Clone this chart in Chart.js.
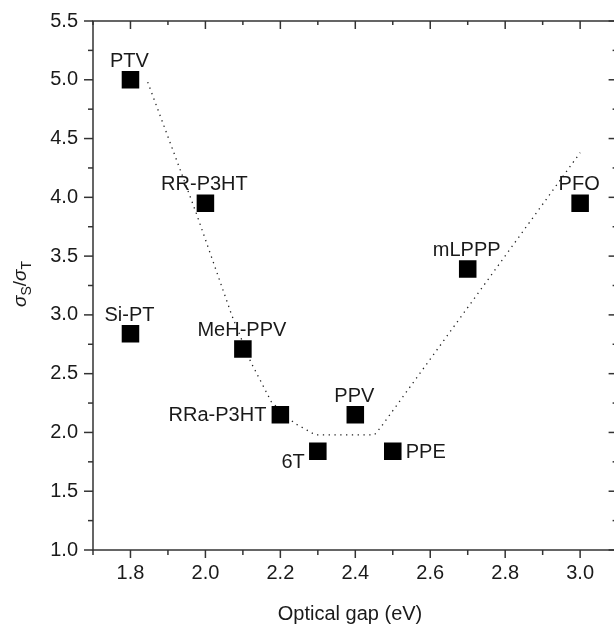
<!DOCTYPE html>
<html><head><meta charset="utf-8">
<script src="https://cdn.jsdelivr.net/npm/chart.js@4.4.0/dist/chart.umd.min.js"></script>
<style>
html,body{margin:0;padding:0;background:#fff;overflow:hidden;width:614px;height:626px}
#wrap{position:relative;width:630px;height:626px}
canvas{display:block}
</style>
</head><body><div id="wrap"><canvas id="c" width="630" height="626"></canvas></div>
<script>
// ---- data ----
const polymers   = ['PTV','RR-P3HT','Si-PT','MeH-PPV','RRa-P3HT','6T','PPV','PPE','mLPPP','PFO'];
const opticalGap = [1.8, 2.0, 1.8, 2.1, 2.2, 2.3, 2.4, 2.5, 2.7, 3.0];
const sigmaRatio = [5.0, 3.95, 2.84, 2.71, 2.15, 1.84, 2.15, 1.84, 3.39, 3.95];
const labelPlacement = ['above','above','above','above','left','belowLeft','above','right','above','above'];
// dotted guide-to-the-eye curve
const guideGap   = [1.846, 1.975, 2.070, 2.121, 2.176, 2.237, 2.271, 2.293, 2.451, 2.467, 3.0];
const guideRatio = [4.98, 3.87, 3.00, 2.60, 2.26, 2.08, 2.02, 1.98, 1.98, 2.04, 4.38];
// axis ticks
const xTickValues  = [1.8, 2.0, 2.2, 2.4, 2.6, 2.8, 3.0];
const xMinorValues = [1.7, 1.9, 2.1, 2.3, 2.5, 2.7, 2.9, 3.1];
const yTickValues  = [1.0, 1.5, 2.0, 2.5, 3.0, 3.5, 4.0, 4.5, 5.0, 5.5];
const yMinorValues = [1.25, 1.75, 2.25, 2.75, 3.25, 3.75, 4.25, 4.75, 5.25];
const xTitle = 'Optical gap (eV)';

const FONT = '"Liberation Sans", Arial, Helvetica, sans-serif';
const TXT = '#1a1a1a';
const AX = '#333333';

const framePlugin = {
  id: 'frame',
  beforeDatasetsDraw(chart) {
    const ctx = chart.ctx, a = chart.chartArea, xs = chart.scales.x, ys = chart.scales.y;
    ctx.save();
    ctx.strokeStyle = AX; ctx.lineWidth = 1.5; ctx.lineCap = 'butt';
    ctx.strokeRect(a.left, a.top, a.right - a.left, a.bottom - a.top);
    const ln = (x1, y1, x2, y2) => { ctx.beginPath(); ctx.moveTo(x1, y1); ctx.lineTo(x2, y2); ctx.stroke(); };
    xTickValues.forEach(v => { const p = xs.getPixelForValue(v); ln(p, a.bottom, p, a.bottom + 8); ln(p, a.top, p, a.top + 8); });
    xMinorValues.forEach(v => { const p = xs.getPixelForValue(v); ln(p, a.bottom, p, a.bottom + 5); ln(p, a.top, p, a.top + 4); });
    yTickValues.forEach(v => { const p = ys.getPixelForValue(v); ln(a.left - 9, p, a.left, p); ln(a.right - 9, p, a.right, p); });
    yMinorValues.forEach(v => { const p = ys.getPixelForValue(v); ln(a.left - 5, p, a.left, p); ln(a.right - 5, p, a.right, p); });
    ctx.restore();
  },
  afterDatasetsDraw(chart) {
    const ctx = chart.ctx, a = chart.chartArea;
    ctx.save();
    ctx.fillStyle = TXT;
    ctx.font = '20px ' + FONT;
    const meta = chart.getDatasetMeta(0);
    meta.data.forEach((pt, i) => {
      const x = pt.x, y = pt.y, t = polymers[i];
      switch (labelPlacement[i]) {
        case 'above': ctx.textAlign = 'center'; ctx.textBaseline = 'alphabetic'; ctx.fillText(t, x - 1, y - 13); break;
        case 'left': ctx.textAlign = 'right'; ctx.textBaseline = 'middle'; ctx.fillText(t, x - 14, y + 1); break;
        case 'right': ctx.textAlign = 'left'; ctx.textBaseline = 'middle'; ctx.fillText(t, x + 13, y + 1); break;
        case 'belowLeft': ctx.textAlign = 'right'; ctx.textBaseline = 'alphabetic'; ctx.fillText(t, x - 13, y + 17); break;
      }
    });
    // x axis title
    ctx.textAlign = 'center'; ctx.textBaseline = 'alphabetic';
    ctx.font = '20px ' + FONT;
    ctx.fillText(xTitle, 350, 620);
    // y axis title: sigma_S / sigma_T
    const big = 'italic 19px ' + FONT, small = '14px ' + FONT, reg = '19px ' + FONT;
    const parts = [
      {t: '\u03C3', f: big, dy: 0},
      {t: 'S', f: small, dy: 5},
      {t: '/', f: reg, dy: 0},
      {t: '\u03C3', f: big, dy: 0},
      {t: 'T', f: small, dy: 5}
    ];
    let total = 0;
    parts.forEach(p => { ctx.font = p.f; p.w = ctx.measureText(p.t).width; total += p.w; });
    ctx.translate(26, 284);
    ctx.rotate(-Math.PI / 2);
    ctx.textAlign = 'left';
    let cx = -total / 2;
    parts.forEach(p => { ctx.font = p.f; ctx.fillText(p.t, cx, p.dy); cx += p.w; });
    ctx.restore();
  }
};

new Chart(document.getElementById('c'), {
  type: 'scatter',
  data: {
    datasets: [
      {
        label: 'polymers',
        data: opticalGap.map((g, i) => ({x: g, y: sigmaRatio[i]})),
        pointStyle: 'rect',
        pointRadius: 12.4,
        pointHoverRadius: 12.4,
        backgroundColor: '#000',
        borderColor: '#000',
        borderWidth: 0
      },
      {
        type: 'line',
        label: 'guide',
        data: guideGap.map((g, i) => ({x: g, y: guideRatio[i]})),
        showLine: true,
        borderColor: '#222',
        borderWidth: 1.3,
        borderDash: [1.3, 4.5],
        pointRadius: 0,
        fill: false,
        tension: 0
      }
    ]
  },
  options: {
    responsive: false,
    animation: false,
    devicePixelRatio: 1,
    layout: {padding: {top: 21, right: 8, left: 0, bottom: 0}},
    plugins: {legend: {display: false}, tooltip: {enabled: false}},
    scales: {
      x: {
        type: 'linear', position: 'bottom', min: 1.7, max: 3.1,
        grid: {display: false, drawTicks: false},
        border: {display: false},
        afterBuildTicks: s => { s.ticks = xTickValues.map(v => ({value: v})); },
        afterFit: s => { s.height = 76; s.paddingLeft = 0; s.paddingRight = 0; },
        ticks: {color: TXT, padding: 11, font: {family: FONT, size: 20}, callback: v => Number(v).toFixed(1), maxRotation: 0, autoSkip: false}
      },
      y: {
        type: 'linear', position: 'left', min: 1.0, max: 5.5,
        grid: {display: false, drawTicks: false},
        border: {display: false},
        afterBuildTicks: s => { s.ticks = yTickValues.map(v => ({value: v})); },
        afterFit: s => { s.width = 93; s.paddingTop = 0; s.paddingBottom = 0; },
        ticks: {color: TXT, padding: 15, font: {family: FONT, size: 20}, callback: v => Number(v).toFixed(1), autoSkip: false}
      }
    }
  },
  plugins: [framePlugin]
});
</script>
</body></html>
